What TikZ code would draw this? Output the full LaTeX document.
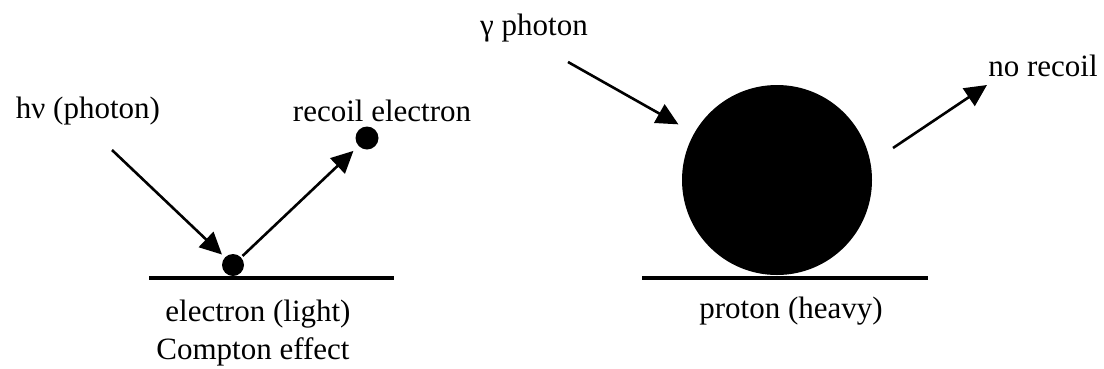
\documentclass[tikz,border=0pt]{standalone}
\usepackage{fontspec}
\setmainfont{Liberation Serif}
\usetikzlibrary{arrows.meta,positioning}

\begin{document}
\begin{tikzpicture}[
x=1pt, y=-1pt,
lbl/.style={font=\fontsize{31}{35}\selectfont, inner sep=0pt, anchor=base},
arrow/.style={-{Triangle[length=22pt,width=21pt]}, line width=2.6pt},
ground/.style={line width=3.4pt},
ball/.style={circle, fill=black, inner sep=0pt, minimum size=#1}
]
\useasboundingbox (0,0) rectangle (1104,368);
% Compton effect (light electron)
\coordinate (lgl) at (149,278);
\coordinate (lgr) at (394,278);
\draw[ground] (lgl) -- (lgr);
\node[ball=22pt] (edot) at (233,265) {};
\node[ball=23pt] (recoil) at (367,138) {};
\coordinate (hvstart) at (112,150);
\draw[arrow, shorten >=4pt] (hvstart) -- (edot);
\draw[arrow, shorten >=7pt, shorten <=2pt] (edot) -- (recoil);
\node[lbl] (hvlbl) at (88,118) {hν (photon)};
\node[lbl] (recoillbl) at (382,121) {recoil electron};
\node[lbl] (elbl) at (258,321) {electron (light)};
\node[lbl] (comptonlbl) at (253,359) {Compton effect};
% heavy proton
\coordinate (rgl) at (642,278);
\coordinate (rgr) at (928,278);
\draw[ground] (rgl) -- (rgr);
\node[ball=190pt] (proton) at (777,180) {};
\coordinate (gstart) at (568,62);
\draw[arrow, shorten >=18pt] (gstart) -- (proton);
\coordinate (nrstart) at (893,148);
\coordinate (nrend) at (987,85);
\draw[arrow] (nrstart) -- (nrend);
\node[lbl] (glbl) at (534,35) {γ photon};
\node[lbl] (nrlbl) at (1043,76) {no recoil};
\node[lbl] (plbl) at (791,318) {proton (heavy)};
\end{tikzpicture}
\end{document}
